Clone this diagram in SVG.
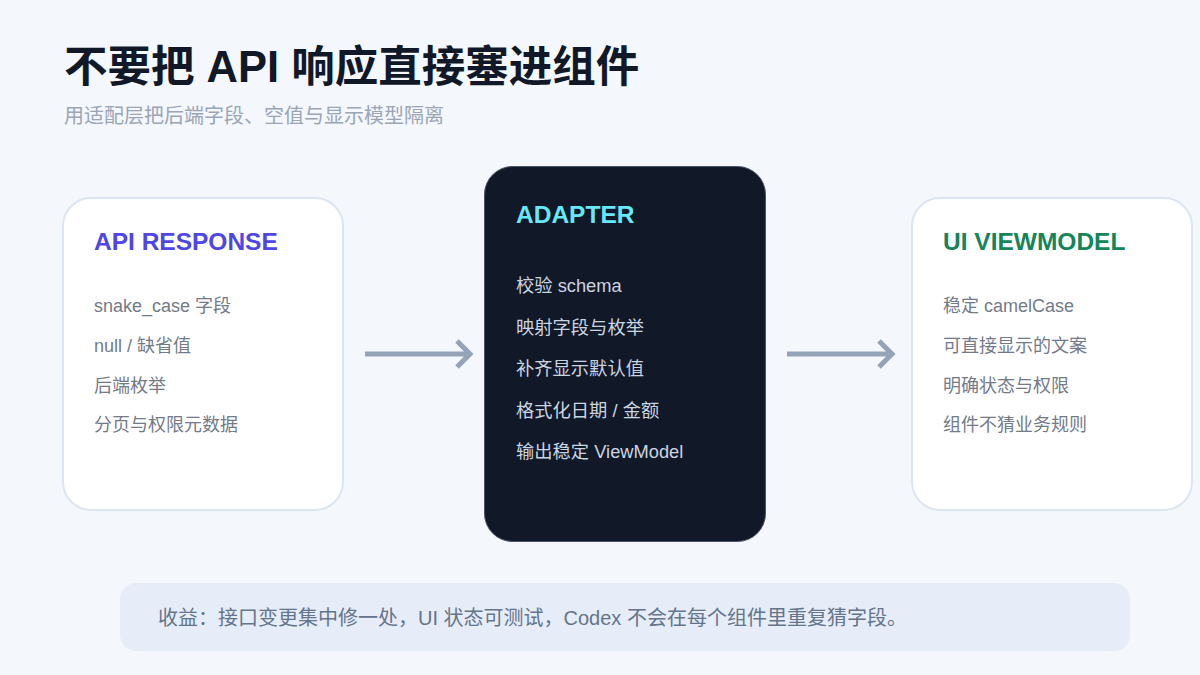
<svg xmlns="http://www.w3.org/2000/svg" width="1200" height="675" viewBox="0 0 1200 675">
<style>
.t{font-family:"Liberation Sans","Noto Sans CJK SC",sans-serif}
.card{fill:#ffffff;stroke:#dce5f2;stroke-width:2}
.h{font-size:24.5px;font-weight:700}
.li{font-size:18px;fill:#737b88}
.ld{font-size:18.3px;fill:#cbd5e1}
.conn{stroke:#94a3b8;stroke-width:5;fill:none;stroke-linecap:butt}
</style>
<rect width="1200" height="675" fill="#f4f7fc"/>
<text class="t" x="64" y="82" font-size="43.5" font-weight="700" fill="#111827">不要把 API 响应直接塞进组件</text>
<text class="t" x="64" y="123" font-size="20" fill="#9aa5b5">用适配层把后端字段、空值与显示模型隔离</text>
<g id="api-response">
<rect class="card" x="63" y="198" width="280" height="312" rx="28"/>
<text class="t h" x="94" y="250" fill="#4f46e5">API RESPONSE</text>
<text class="t li" x="94" y="312">snake_case 字段</text>
<text class="t li" x="94" y="352">null / 缺省值</text>
<text class="t li" x="94" y="392">后端枚举</text>
<text class="t li" x="94" y="431">分页与权限元数据</text>
</g>
<g id="adapter">
<rect x="484.5" y="166.5" width="281" height="375" rx="28" fill="#111827" stroke="#4b5563" stroke-width="1"/>
<text class="t h" x="516" y="223" fill="#67e8f9">ADAPTER</text>
<text class="t ld" x="516" y="292">校验 schema</text>
<text class="t ld" x="516" y="333.5">映射字段与枚举</text>
<text class="t ld" x="516" y="375">补齐显示默认值</text>
<text class="t ld" x="516" y="416.5">格式化日期 / 金额</text>
<text class="t ld" x="516" y="458">输出稳定 ViewModel</text>
</g>
<g id="ui-viewmodel">
<rect class="card" x="912" y="198" width="280" height="312" rx="28"/>
<text class="t h" x="943" y="250" fill="#15855a">UI VIEWMODEL</text>
<text class="t li" x="943" y="312">稳定 camelCase</text>
<text class="t li" x="943" y="352">可直接显示的文案</text>
<text class="t li" x="943" y="392">明确状态与权限</text>
<text class="t li" x="943" y="431">组件不猜业务规则</text>
</g>
<g id="connectors">
<path class="conn" d="M365 354 H470 M457 341 L470 354 L457 367"/>
<path class="conn" d="M787 354 H892 M879 341 L892 354 L879 367"/>
</g>
<g id="benefit">
<rect x="120" y="583" width="1010" height="68" rx="16" fill="#e6edf8"/>
<text class="t" x="158" y="625" font-size="20" fill="#64748b">收益：接口变更集中修一处，UI 状态可测试，Codex 不会在每个组件里重复猜字段。</text>
</g>
</svg>
